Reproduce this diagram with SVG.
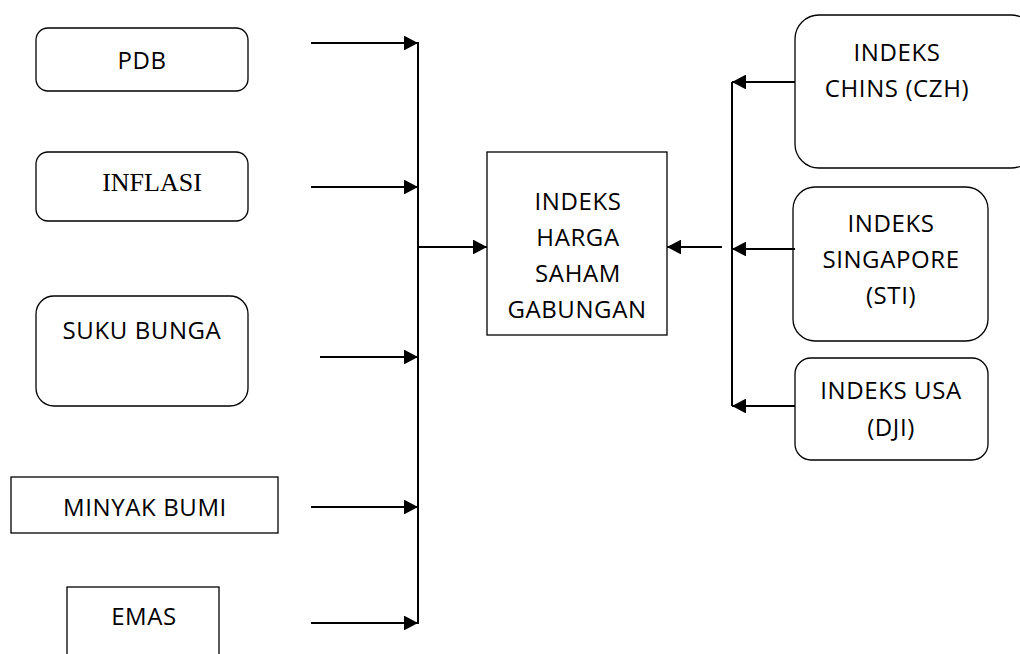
<svg xmlns="http://www.w3.org/2000/svg" width="1020" height="654" viewBox="0 0 1020 654">
<style>
.box{fill:#fff;stroke:#000;stroke-width:1.3}
.t{font-family:"Open Sans","Liberation Sans",sans-serif;font-size:24px;letter-spacing:0.6px;fill:#000;text-anchor:middle}
.ts{font-family:"Liberation Serif",serif;font-size:26px;fill:#000;text-anchor:middle}
.ln{stroke:#000;stroke-width:2;fill:none}
</style>
<defs>
<marker id="ah" markerWidth="7" markerHeight="7.4" refX="7" refY="3.7" orient="auto" markerUnits="strokeWidth">
<path d="M0,0 L7,3.7 L0,7.4 Z" fill="#000"/>
</marker>
</defs>
<rect width="1020" height="654" fill="#fff"/>
<g id="pdb"><rect class="box" x="36" y="28" width="212" height="63" rx="12"/><text class="t" x="142" y="69">PDB</text></g>
<g id="inflasi"><rect class="box" x="36" y="152" width="212" height="69" rx="12"/><text class="ts" x="152" y="191">INFLASI</text></g>
<g id="suku"><rect class="box" x="36" y="296" width="212" height="110" rx="18"/><text class="t" x="142" y="339">SUKU BUNGA</text></g>
<g id="minyak"><rect class="box" x="11" y="477" width="267" height="56"/><text class="t" x="145" y="516">MINYAK BUMI</text></g>
<g id="emas"><rect class="box" x="67" y="587" width="152" height="80"/><text class="t" x="144" y="625">EMAS</text></g>
<g id="ihsg"><rect class="box" x="487" y="152" width="180" height="183"/>
<text class="t" x="578" y="210">INDEKS</text><text class="t" x="578" y="246">HARGA</text><text class="t" x="578" y="282">SAHAM</text><text class="t" x="577" y="318">GABUNGAN</text></g>
<g id="chins"><rect class="box" x="795" y="15" width="240" height="153" rx="24"/>
<text class="t" x="897" y="61">INDEKS</text><text class="t" x="897" y="97">CHINS (CZH)</text></g>
<g id="sing"><rect class="box" x="793" y="187" width="195" height="154" rx="22"/>
<text class="t" x="891" y="232">INDEKS</text><text class="t" x="891" y="268">SINGAPORE</text><text class="t" x="891" y="304">(STI)</text></g>
<g id="usa"><rect class="box" x="795" y="358" width="193" height="102" rx="16"/>
<text class="t" x="891" y="399">INDEKS USA</text><text class="t" x="891" y="436">(DJI)</text></g>
<g id="connectors">
<line class="ln" x1="418" y1="42" x2="418" y2="624"/>
<line class="ln" x1="311" y1="43" x2="418" y2="43" marker-end="url(#ah)"/>
<line class="ln" x1="311" y1="187" x2="418" y2="187" marker-end="url(#ah)"/>
<line class="ln" x1="320" y1="357" x2="418" y2="357" marker-end="url(#ah)"/>
<line class="ln" x1="311" y1="507" x2="418" y2="507" marker-end="url(#ah)"/>
<line class="ln" x1="311" y1="623" x2="418" y2="623" marker-end="url(#ah)"/>
<line class="ln" x1="418" y1="247" x2="487" y2="247" marker-end="url(#ah)"/>
<line class="ln" x1="722" y1="247" x2="667" y2="247" marker-end="url(#ah)"/>
<line class="ln" x1="732" y1="82" x2="732" y2="406"/>
<line class="ln" x1="795" y1="82" x2="732" y2="82" marker-end="url(#ah)"/>
<line class="ln" x1="795" y1="249" x2="732" y2="249" marker-end="url(#ah)"/>
<line class="ln" x1="795" y1="406" x2="732" y2="406" marker-end="url(#ah)"/>
</g>
</svg>
